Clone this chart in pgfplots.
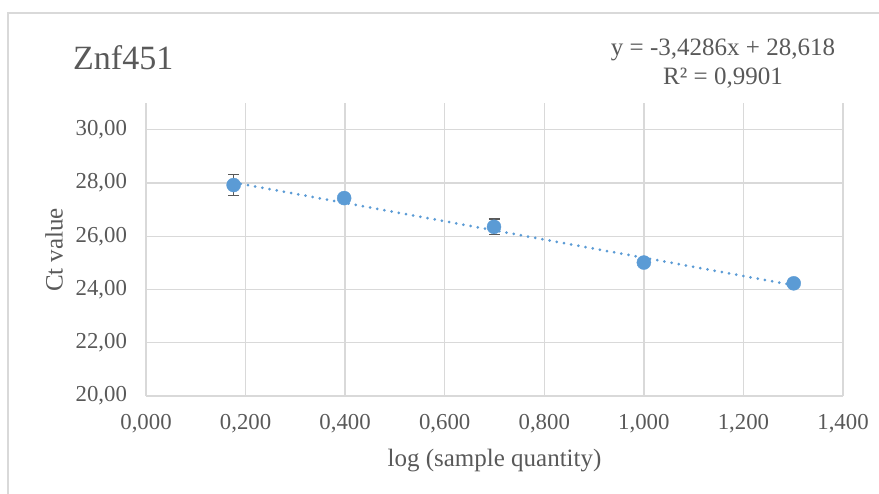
\documentclass[border=0pt]{standalone}
\usepackage{fontspec}
\setmainfont{Liberation Serif}
\usepackage{pgfplots}
\pgfplotsset{compat=1.18}
\definecolor{txt}{HTML}{595959}
\definecolor{grd}{HTML}{D9D9D9}
\definecolor{blu}{HTML}{5B9BD5}
\newcommand{\lab}{\fontsize{25}{28}\selectfont}
\newcommand{\tck}{\fontsize{22.8}{26}\selectfont}
\begin{document}
\begin{tikzpicture}[x=1pt,y=1pt]
\path[use as bounding box] (0,0) rectangle (879,494);
\draw[grd, line width=1.3pt] (8,0) -- (8,481) -- (879,481);
\begin{axis}[at={(146pt,98pt)}, anchor=south west,
scale only axis, width=697pt, height=293pt,
xmin=0, xmax=1.4, ymin=20, ymax=31,
axis x line*=bottom, axis y line*=left,
axis line style={grd, line width=1.3pt, -},
xtick={0,0.2,0.4,0.6,0.8,1.0,1.2,1.4},
xticklabels={{0,000},{0,200},{0,400},{0,600},{0,800},{1,000},{1,200},{1,400}},
ytick={20,22,24,26,28,30},
yticklabels={{20,00},{22,00},{24,00},{26,00},{28,00},{30,00}},
major tick length=0pt,
grid=major, grid style={grd, line width=1.3pt},
tick label style={font=\tck, text=txt},
xticklabel style={yshift=-15pt},
yticklabel style={xshift=-15.5pt},
clip=false]
% trend line y = -3,4286x + 28,618
\addplot[blu, line width=3pt, line cap=round, dash pattern=on 0pt off 7.3pt]
coordinates {(0.176,28.015) (1.301,24.157)};
\addplot[draw=none, mark=none, error bars/.cd, y dir=both, y explicit,
error bar style={txt, line width=1.3pt},
error mark options={rotate=90, mark size=5.5pt, line width=1.3pt, txt}]
coordinates {
(0.176,27.92) +- (0,0.40)
(0.398,27.43) +- (0,0.08)
(0.699,26.35) +- (0,0.30)
(1.000,25.01) +- (0,0.05)
(1.301,24.23) +- (0,0.05)
};
\addplot[only marks, mark=*, mark size=7pt, blu, mark options={fill=blu, draw=blu}]
coordinates {(0.176,27.92) (0.398,27.43) (0.699,26.35) (1.000,25.01) (1.301,24.23)};
\end{axis}
\node[anchor=base west, inner sep=0, text=txt, font=\fontsize{34}{38}\selectfont] at (73,424.5) {Znf451};
\node[anchor=base, inner sep=0, text=txt, font=\lab] at (723,438.3) {y = -3,4286x + 28,618};
\node[anchor=base, inner sep=0, text=txt, font=\lab] at (723,409) {R² = 0,9901};
\node[anchor=base, inner sep=0, text=txt, font=\lab] at (494.5,27) {log (sample quantity)};
\node[anchor=base, inner sep=0, text=txt, font=\lab, rotate=90] at (62.7,244) {Ct value};
\end{tikzpicture}
\end{document}
